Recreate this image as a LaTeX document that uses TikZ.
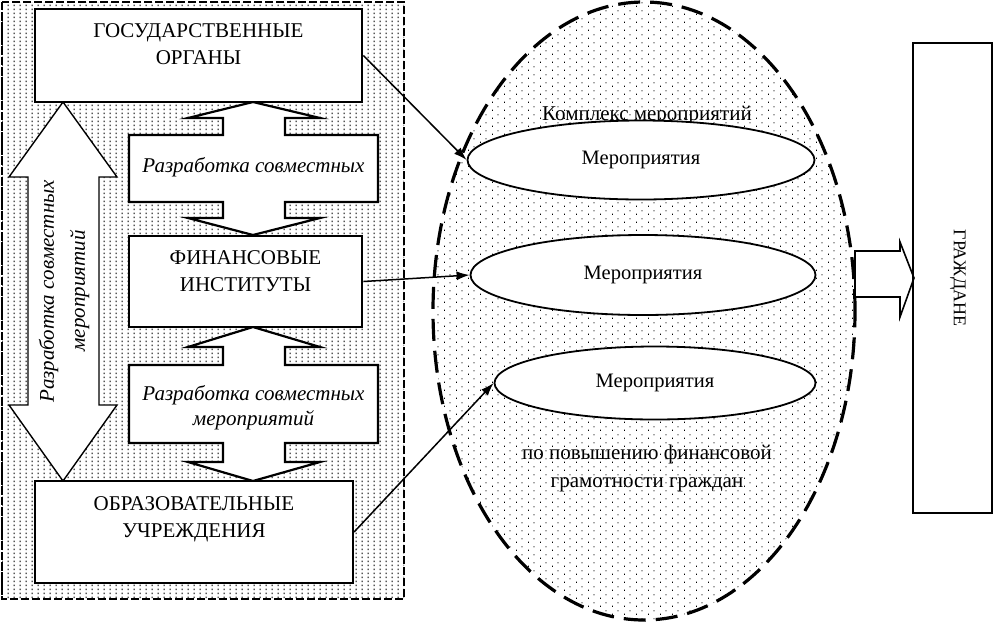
\documentclass[tikz,border=0pt]{standalone}
\usepackage{fontspec}
\setmainfont{Liberation Serif}
\usetikzlibrary{positioning, shapes.geometric, patterns.meta, arrows.meta}

% точечные заливки
\pgfdeclarepattern{
  name=paneldots, type=uncolored,
  bottom left={\pgfpoint{0pt}{0pt}}, top right={\pgfpoint{6pt}{4pt}},
  tile size={\pgfpoint{6pt}{4pt}},
  code={\pgfpathrectangle{\pgfpoint{2pt}{1pt}}{\pgfpoint{1pt}{2pt}}\pgfusepath{fill}}
}
\pgfdeclarepattern{
  name=ovaldots, type=uncolored,
  bottom left={\pgfpoint{0pt}{0pt}}, top right={\pgfpoint{12pt}{8pt}},
  tile size={\pgfpoint{12pt}{8pt}},
  code={\pgfpathrectangle{\pgfpoint{0pt}{0pt}}{\pgfpoint{1pt}{1.6pt}}
        \pgfpathrectangle{\pgfpoint{6pt}{4pt}}{\pgfpoint{1pt}{1.6pt}}\pgfusepath{fill}}
}

\tikzset{
  orgbox/.style={draw, line width=2.8pt, fill=white, inner sep=0pt},
  orgtext/.style={font=\fontsize{21}{27}\selectfont, align=center, inner sep=0pt},
  devtext/.style={font=\fontsize{21}{25}\selectfont\itshape, align=center, inner sep=0pt},
  event/.style={ellipse, draw, line width=1.8pt, fill=white, inner sep=0pt,
                font=\fontsize{20.5}{24}\selectfont},
  blockarrow/.style={draw, fill=white, line join=miter},
  conn/.style={-{Latex[length=13pt, width=9pt]}, line width=1.5pt}
}

\begin{document}
\begin{tikzpicture}[x=1pt, y=-1pt]
  \useasboundingbox (0,0) rectangle (993,622);

  % левая панель
  \draw[line width=1.4pt, dash pattern=on 8pt off 3pt, pattern=paneldots] (2,2) rectangle (404,599);
  \draw[line width=2.4pt, dash pattern=on 3pt off 2pt] (2,2) -- (2,599);

  % вертикальная двойная стрелка
  \draw[blockarrow, line width=1.4pt] (63,102) -- (117,177) -- (99,177) -- (99,405) -- (117,405)
    -- (63,481) -- (9,405) -- (28,405) -- (28,177) -- (9,177) -- cycle;
  \node[devtext, font=\fontsize{21}{31}\selectfont\itshape, rotate=90] (devleft) at (64,291)
    {Разработка совместных\\мероприятий};

  % стрелки между блоками
  \draw[blockarrow, line width=2.2pt] (129,135) -- (223,135) -- (223,118) -- (188,118) -- (253,102)
    -- (320,118) -- (285,118) -- (285,135) -- (378,135) -- (378,202) -- (285,202) -- (285,218)
    -- (320,218) -- (253,235) -- (188,218) -- (223,218) -- (223,202) -- (129,202) -- cycle;
  \draw[blockarrow, line width=2.2pt] (129,365) -- (223,365) -- (223,347) -- (188,347) -- (253,327)
    -- (320,347) -- (285,347) -- (285,365) -- (378,365) -- (378,443) -- (285,443) -- (285,462)
    -- (320,462) -- (253,481) -- (188,462) -- (223,462) -- (223,443) -- (129,443) -- cycle;
  \node[devtext, anchor=base] (dev1) at (253.5,172) {Разработка совместных};
  \node[devtext, anchor=base] (dev2) at (253.5,425) {Разработка совместных\\мероприятий};

  % участники
  \node[orgbox, minimum width=327, minimum height=93] (gos) at (198.5,55.5) {};
  \node[orgbox, minimum width=233, minimum height=91] (fin) at (245.5,281.5) {};
  \node[orgbox, line width=2.2pt, minimum width=318, minimum height=102] (obr) at (194,532) {};
  \node[orgtext, below=16pt of gos.north] (gostext) {ГОСУДАРСТВЕННЫЕ\\ОРГАНЫ};
  \node[orgtext, below=16pt of fin.north] (fintext) {ФИНАНСОВЫЕ\\ИНСТИТУТЫ};
  \node[orgtext, below=16pt of obr.north] (obrtext) {ОБРАЗОВАТЕЛЬНЫЕ\\УЧРЕЖДЕНИЯ};

  % комплекс мероприятий
  \node[ellipse, draw, line width=3.2pt, dash pattern=on 22pt off 10pt, pattern=ovaldots,
        minimum width=422, minimum height=618, inner sep=0pt] (kompleks) at (644,311) {};
  \node[orgtext, anchor=base] (komtext) at (647,120) {Комплекс мероприятий};
  \node[event, minimum width=347, minimum height=79] (ev1) at (641,160) {Мероприятия};
  \node[event, minimum width=345, minimum height=80] (ev2) at (643,275) {Мероприятия};
  \node[event, minimum width=321, minimum height=73] (ev3) at (655,383) {Мероприятия};
  \node[orgtext, anchor=base] (goal1) at (647,459) {по повышению финансовой};
  \node[orgtext, anchor=base] (goal2) at (647,487) {грамотности граждан};

  % связи
  \draw[conn] (gos.east) -- (ev1.west);
  \draw[conn] (fin.east) -- (ev2.west);
  \draw[conn] (obr.east) -- (ev3.west);

  % граждане
  \draw[blockarrow, line width=1.6pt] (855,251) -- (900,251) -- (900,242) -- (914,278)
    -- (900,317) -- (900,297) -- (855,297) -- cycle;
  \node[draw, line width=1.6pt, minimum width=79, minimum height=470, inner sep=0pt] (grazh) at (952.5,278) {};
  \node[orgtext, font=\fontsize{18}{22}\selectfont, rotate=-90] (grazhtext) at (958,278) {ГРАЖДАНЕ};
\end{tikzpicture}
\end{document}
